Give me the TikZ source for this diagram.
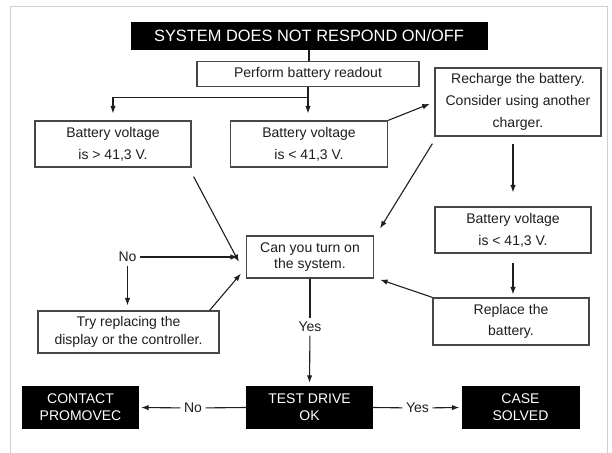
\documentclass[tikz,border=0pt]{standalone}
\usepackage{fontspec}
\setmainfont{Liberation Sans}
\usetikzlibrary{arrows.meta}
\definecolor{framegray}{HTML}{CFCFCF}
\definecolor{boxgray}{HTML}{474747}
\definecolor{inkgray}{HTML}{1E1E1E}
\tikzset{
  box/.style={draw=boxgray, line width=1.2pt, fill=white, align=center, inner sep=0pt,
    text=inkgray, font=\fontsize{14}{21.7}\selectfont},
  endbox/.style={fill=black, text=white, align=center, inner sep=0pt,
    font=\fontsize{14}{16.7}\selectfont, minimum height=43pt},
  lbl/.style={text=inkgray, inner sep=3.5pt, font=\fontsize{14}{16}\selectfont},
  ln/.style={draw=inkgray, line width=1.1pt},
  arr/.style={ln, -{Latex[length=7.5pt,width=5.5pt]}},
}
\begin{document}
\begin{tikzpicture}[x=1pt,y=-1pt]
\useasboundingbox (0,0) rectangle (612,452);
% frame
\draw[framegray, line width=1pt] (10,460) -- (10,7) -- (607,7) -- (607,460);
% boxes
\node[endbox, minimum width=357pt, minimum height=28pt, font=\fontsize{16.4}{20}\selectfont] (title) at (309,36) {SYSTEM DOES NOT RESPOND ON/OFF};
\node[box, minimum width=222pt, minimum height=25pt] (readout) at (308,74) {Perform battery readout};
\node[box, minimum width=166pt, minimum height=68pt] (recharge) at (518,102) {Recharge the battery.\\Consider using another\\charger.};
\node[box, minimum width=156pt, minimum height=46pt] (high) at (113,144) {Battery voltage\\is > 41,3 V.};
\node[box, minimum width=157pt, minimum height=46pt] (low) at (309,144) {Battery voltage\\is < 41,3 V.};
\node[box, minimum width=156pt, minimum height=46pt] (lowagain) at (513,230) {Battery voltage\\is < 41,3 V.};
\node[box, minimum width=127pt, minimum height=42pt, font=\fontsize{14}{16.7}\selectfont] (turnon) at (310,257) {Can you turn on\\the system.};
\node[box, minimum width=156pt, minimum height=47pt] (replace) at (511,321.5) {Replace the\\battery.};
\node[box, minimum width=181pt, minimum height=42pt, font=\fontsize{14}{18.3}\selectfont] (tryother) at (128.5,332) {Try replacing the\\display or the controller.};
\node[endbox, minimum width=117pt] (contact) at (80.5,407.5) {CONTACT\\PROMOVEC};
\node[endbox, minimum width=127pt] (testdrive) at (309.5,407.5) {TEST DRIVE\\OK};
\node[endbox, minimum width=118pt] (solved) at (520.5,407.5) {CASE\\SOLVED};
% labels
\node[lbl] (noturn) at (127.5,257) {No};
\node[lbl] (yesturn) at (310,327) {Yes};
\node[lbl] (notest) at (193,408) {No};
\node[lbl] (yestest) at (417.5,408) {Yes};
% connectors
\draw[ln] (title.south) -- (title.south |- readout.north);
\draw[arr, shorten >=7pt] (readout.south) -- ++(0,10) -| (high.north);
\draw[arr, shorten >=7pt] (readout.south) -- (readout.south |- low.north);
\draw[arr, shorten >=5pt] (low.north east) -- (recharge.west);
\draw[arr] ([shift={(-2pt,-7pt)}]recharge.south west) -- ([shift={(6pt,7pt)}]turnon.north east);
\draw[arr, shorten <=7pt, shorten >=14pt] (recharge.south -| lowagain.north) -- (lowagain.north);
\draw[arr, shorten <=9pt, shorten >=3pt] (lowagain.south) -- (lowagain.south |- replace.north);
\draw[arr] (replace.north west) -- ([shift={(6pt,-1pt)}]turnon.south east);
\draw[arr] ([shift={(2pt,-9pt)}]high.south east) -- ([shift={(-7pt,-5pt)}]turnon.west);
\draw[arr, shorten >=8pt] (noturn) -- (turnon.west);
\draw[arr, shorten >=5pt] (noturn) -- (noturn |- tryother.north);
\draw[arr] ([xshift=-10pt]tryother.north east) -- ([shift={(-5pt,5pt)}]turnon.south west);
\draw[ln] (turnon.south) -- (yesturn);
\draw[arr, shorten >=3pt] (yesturn) -- (testdrive.north);
\draw[ln] (testdrive.west) -- (notest);
\draw[arr, shorten >=2pt] (notest) -- (contact.east);
\draw[ln] (testdrive.east) -- (yestest);
\draw[arr, shorten >=2pt] (yestest) -- (solved.west);
\end{tikzpicture}
\end{document}
